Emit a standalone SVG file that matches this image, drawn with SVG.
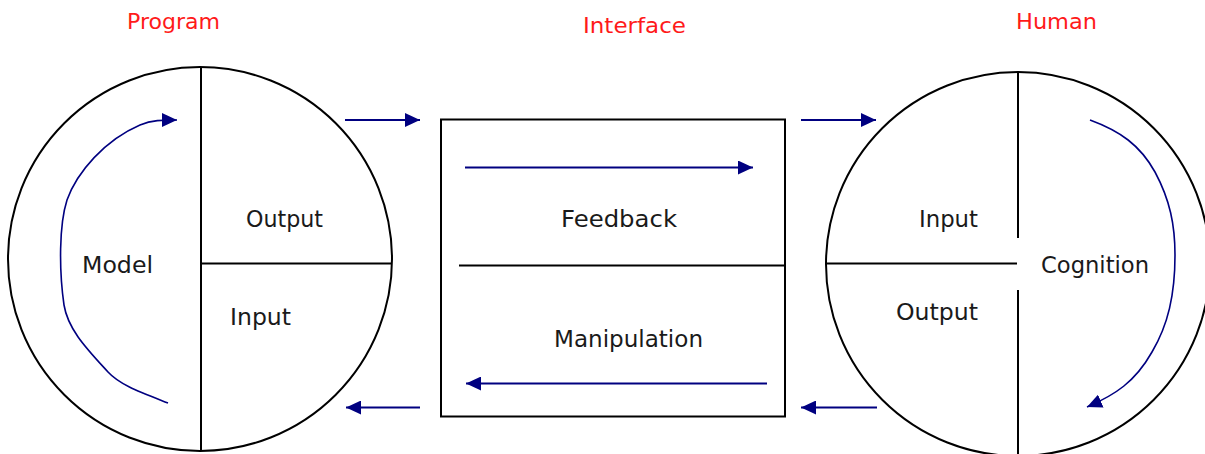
<svg xmlns="http://www.w3.org/2000/svg" width="1205" height="454" viewBox="0 0 1205 454">
  <style>
    .outline { fill: none; stroke: #000; stroke-width: 2; }
    .rule { stroke: #000; stroke-width: 2; }
    .flow { fill: none; stroke: #000080; stroke-width: 2; }
    .curve { fill: none; stroke: #000080; stroke-width: 1.6; }
    .label { font-family: "DejaVu Sans", "Liberation Sans", sans-serif; font-size: 23px; fill: #1a1a1a; }
    .title { font-family: "DejaVu Sans", "Liberation Sans", sans-serif; font-size: 21.5px; fill: #ff1a1a; }
  </style>
  <defs>
    <marker id="head" markerUnits="userSpaceOnUse" markerWidth="16" markerHeight="14" viewBox="0 0 16 14" refX="15" refY="7" orient="auto">
      <path d="M0,0 L15,7 L0,14 z" fill="#000080"/>
    </marker>
  </defs>
  <rect width="1205" height="454" fill="#fff"/>

  <!-- section titles -->
  <text class="title" x="127" y="29" textLength="93" lengthAdjust="spacingAndGlyphs">Program</text>
  <text class="title" x="583" y="33" textLength="103" lengthAdjust="spacingAndGlyphs">Interface</text>
  <text class="title" x="1016" y="29" textLength="81" lengthAdjust="spacingAndGlyphs">Human</text>

  <!-- program side -->
  <g id="program">
    <circle class="outline" cx="200" cy="259" r="192"/>
    <line class="rule" x1="201" y1="67" x2="201" y2="451"/>
    <line class="rule" x1="201" y1="263.5" x2="392" y2="263.5"/>
    <text class="label" x="246" y="227" textLength="77" lengthAdjust="spacingAndGlyphs">Output</text>
    <text class="label" x="82" y="273" textLength="71" lengthAdjust="spacingAndGlyphs">Model</text>
    <text class="label" x="230" y="325" textLength="61" lengthAdjust="spacingAndGlyphs">Input</text>
  </g>

  <!-- interface box -->
  <g id="interface">
    <rect class="outline" x="441" y="119.5" width="344" height="297"/>
    <line class="rule" x1="459" y1="265.5" x2="785" y2="265.5"/>
    <text class="label" x="561" y="227" textLength="116" lengthAdjust="spacingAndGlyphs">Feedback</text>
    <text class="label" x="554" y="347" textLength="149" lengthAdjust="spacingAndGlyphs">Manipulation</text>
  </g>

  <!-- human side -->
  <g id="human">
    <circle class="outline" cx="1018" cy="264" r="192"/>
    <line class="rule" x1="1018" y1="72" x2="1018" y2="238"/>
    <line class="rule" x1="1018" y1="290" x2="1018" y2="456"/>
    <line class="rule" x1="826" y1="263.5" x2="1017" y2="263.5"/>
    <text class="label" x="919" y="227" textLength="59" lengthAdjust="spacingAndGlyphs">Input</text>
    <text class="label" x="1041" y="273" textLength="108" lengthAdjust="spacingAndGlyphs">Cognition</text>
    <text class="label" x="896" y="320" textLength="82" lengthAdjust="spacingAndGlyphs">Output</text>
  </g>

  <!-- connectors -->
  <g id="connectors">
    <line class="flow" x1="345" y1="120" x2="420" y2="120" marker-end="url(#head)"/>
    <line class="flow" x1="420" y1="407.5" x2="346" y2="407.5" marker-end="url(#head)"/>
    <line class="flow" x1="801" y1="120" x2="876" y2="120" marker-end="url(#head)"/>
    <line class="flow" x1="877" y1="407.5" x2="801" y2="407.5" marker-end="url(#head)"/>
    <line class="flow" x1="465" y1="167.5" x2="753" y2="167.5" marker-end="url(#head)"/>
    <line class="flow" x1="767" y1="383.5" x2="466" y2="383.5" marker-end="url(#head)"/>
    <path class="curve" d="M168,403 C140,392 120,385 108,372 C88,350 68,330 64,305 C59,270 59,225 67,200 C77,172 105,140 140,125 C152,120 162,120 177,120" marker-end="url(#head)"/>
    <path class="curve" d="M1090,120 C1120,131 1140,145 1155,172 C1170,200 1175,225 1175,255 C1175,295 1168,325 1152,352 C1135,382 1115,395 1087,407" marker-end="url(#head)"/>
  </g>
</svg>
